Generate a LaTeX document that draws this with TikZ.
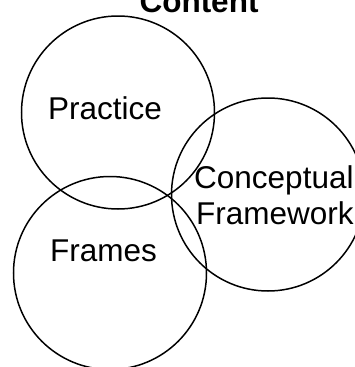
\documentclass[tikz,border=0pt]{standalone}
\usepackage{fontspec}
\setmainfont{Liberation Sans}
\begin{document}
\begin{tikzpicture}[x=1pt,y=1pt,
  ring/.style={draw=black,line width=1.5pt,circle,minimum size=193pt,inner sep=0pt},
  lbl/.style={font=\fontsize{31.5}{35}\selectfont,inner sep=0pt,anchor=base west,align=left}]
\useasboundingbox (0,0) rectangle (354,-367);
\node[ring] (practice) at (118,-112.5) {};
\node[ring] (frames) at (110,-273) {};
\node[ring] (cf) at (268,-194.5) {};
\node[lbl] (tpractice) at (48,-119) {Practice};
\node[lbl] (tframes) at (50,-261) {Frames};
\node[lbl] (tcf1) at (194,-188) {Conceptual};
\node[lbl] (tcf2) at (196,-224) {Framework};
\node[font=\fontsize{31.5}{35}\selectfont\bfseries,inner sep=0pt,anchor=base] (title) at (199,-12) {Content};
\end{tikzpicture}
\end{document}
